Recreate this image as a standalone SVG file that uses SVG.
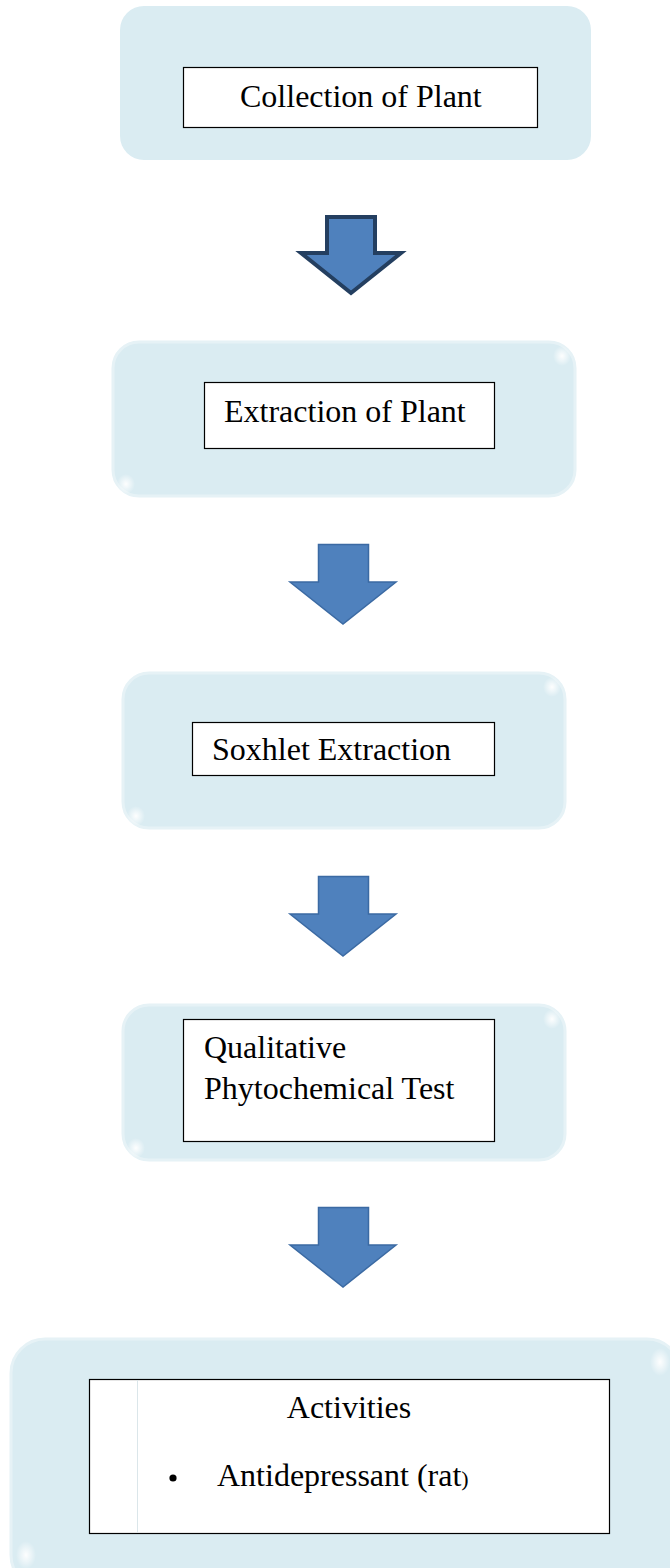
<svg xmlns="http://www.w3.org/2000/svg" width="670" height="1568" viewBox="0 0 670 1568">
<defs>
<style>
.outer{fill:#daecf2;}
.glossy{fill:#daecf2;stroke:#e6f2f6;stroke-width:3;}
.inner{fill:#ffffff;stroke:#000000;stroke-width:1.2;}
.t{font-family:"Liberation Serif","Times New Roman",serif;font-size:32px;fill:#000000;}
.arrA{fill:#4f81bd;stroke:#243f60;stroke-width:4;stroke-linejoin:miter;}
.arrB{fill:#4f81bd;stroke:#3b6aa3;stroke-width:1.5;stroke-linejoin:miter;}
</style>
<radialGradient id="hl" cx="0.5" cy="0.5" r="0.5">
<stop offset="0" stop-color="#ffffff" stop-opacity="0.95"/>
<stop offset="1" stop-color="#ffffff" stop-opacity="0"/>
</radialGradient>
</defs>
<rect width="670" height="1568" fill="#ffffff"/>

<g id="node-collection">
<rect class="outer" x="120" y="6" width="471" height="154" rx="24"/>
<rect class="inner" x="183.5" y="67.5" width="354" height="60"/>
<text class="t" x="240" y="107">Collection of Plant</text>
</g>

<g id="node-extraction">
<rect class="glossy" x="113" y="342" width="462" height="154" rx="26"/>
<ellipse cx="562" cy="356" rx="9" ry="10" fill="url(#hl)"/>
<ellipse cx="126" cy="484" rx="9" ry="10" fill="url(#hl)"/>
<rect class="inner" x="204.5" y="382.5" width="290" height="66"/>
<text class="t" x="224" y="422">Extraction of Plant</text>
</g>

<g id="node-soxhlet">
<rect class="glossy" x="123" y="673" width="442" height="155" rx="26"/>
<ellipse cx="552" cy="687" rx="9" ry="10" fill="url(#hl)"/>
<ellipse cx="136" cy="816" rx="9" ry="10" fill="url(#hl)"/>
<rect class="inner" x="192.5" y="722.5" width="302" height="53"/>
<text class="t" x="212" y="760">Soxhlet Extraction</text>
</g>

<g id="node-qualitative">
<rect class="glossy" x="123" y="1005" width="442" height="155" rx="26"/>
<ellipse cx="552" cy="1019" rx="9" ry="10" fill="url(#hl)"/>
<ellipse cx="136" cy="1148" rx="9" ry="10" fill="url(#hl)"/>
<rect class="inner" x="183.5" y="1019.5" width="311" height="122"/>
<text class="t" x="204" y="1058">Qualitative</text>
<text class="t" x="204" y="1099">Phytochemical Test</text>
</g>

<g id="node-activities">
<rect class="glossy" x="11" y="1339" width="670" height="250" rx="34"/>
<ellipse cx="660" cy="1362" rx="10" ry="14" fill="url(#hl)"/>
<ellipse cx="26" cy="1555" rx="10" ry="14" fill="url(#hl)"/>
<rect class="inner" x="89.5" y="1379.5" width="520" height="154"/>
<line x1="137.5" y1="1380" x2="137.5" y2="1533" stroke="#dbe6ea" stroke-width="1"/>
<text class="t" x="349" y="1418" text-anchor="middle">Activities</text>
<circle cx="173" cy="1478" r="3.6" fill="#000000"/>
<text class="t" x="217" y="1486">Antidepressant (rat<tspan font-size="22px">)</tspan></text>
</g>

<g id="connectors">
<path class="arrA" d="M327,217 H375 V253 H401 L351,293 L301,253 H327 Z"/>
<path class="arrB" d="M318.5,544.5 H368.5 V582 H396 L343,624 L290,582 H318.5 Z"/>
<path class="arrB" d="M318.5,876.5 H368.5 V914 H396 L343,956 L290,914 H318.5 Z"/>
<path class="arrB" d="M318.5,1207.5 H368.5 V1245 H396 L343,1287 L290,1245 H318.5 Z"/>
</g>
</svg>
